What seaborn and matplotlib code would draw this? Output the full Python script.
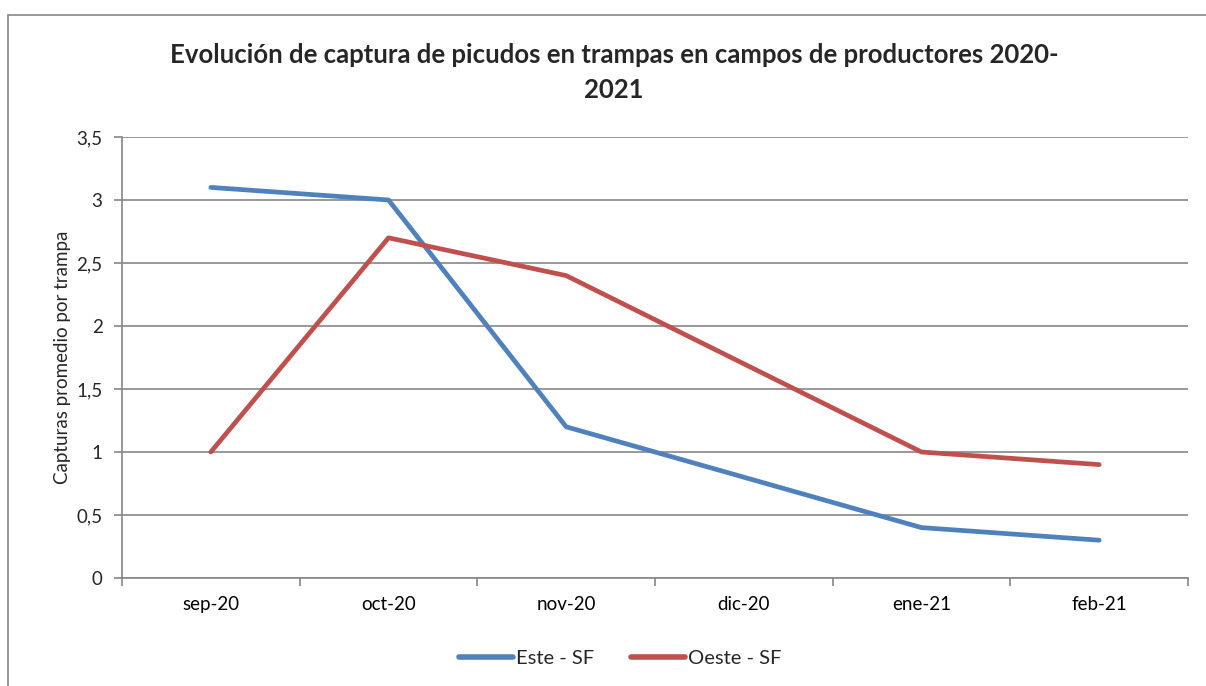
import matplotlib
matplotlib.use("Agg")
import matplotlib.pyplot as plt
import seaborn as sns
import pandas as pd
from matplotlib.ticker import FuncFormatter, FixedLocator
from matplotlib.patches import Rectangle

months = ["sep-20", "oct-20", "nov-20", "dic-20", "ene-21", "feb-21"]
este_sf = [3.1, 3.0, 1.2, 0.8, 0.4, 0.3]
oeste_sf = [1.0, 2.7, 2.4, 1.7, 1.0, 0.9]
series_names = ["Este - SF", "Oeste - SF"]
colors = ["#4F81BD", "#C0504D"]

sns.set_theme(style="white")
plt.rcParams['font.family'] = ['Lato', 'DejaVu Sans']

rows = []
for name, vals in zip(series_names, [este_sf, oeste_sf]):
    for i, v in enumerate(vals):
        rows.append({"idx": i, "valor": v, "serie": name})
df = pd.DataFrame(rows)

fig = plt.figure(figsize=(12.06, 6.86), dpi=100)
ax = fig.add_axes([122/1206, 1-578/686, (1188-122)/1206, (578-137)/686])

sns.lineplot(data=df, x="idx", y="valor", hue="serie", palette=colors,
             linewidth=3.4, ax=ax, legend=True, solid_capstyle="round")

ax.set_xlim(-0.5, 5.5)
ax.set_ylim(0, 3.5)
ax.set_yticks([0, 0.5, 1, 1.5, 2, 2.5, 3, 3.5])
ax.yaxis.set_major_formatter(FuncFormatter(lambda v, p: ("%g" % v).replace(".", ",")))
ax.set_xticks(range(len(months)))
ax.set_xticklabels(months)
ax.xaxis.set_minor_locator(FixedLocator([i - 0.5 for i in range(len(months) + 1)]))
ax.tick_params(axis="x", which="major", length=0, pad=13, labelsize=13.5, colors="black")
ax.tick_params(axis="x", which="minor", length=6, width=1.2, color="#868686", direction="out", bottom=True)
ax.tick_params(axis="y", which="major", length=6, width=1.2, color="#868686", direction="out", left=True, labelsize=13.5, pad=8)
ax.grid(axis="y", color="#868686", linewidth=1.2)
ax.set_axisbelow(True)
for s in ["top", "right"]:
    ax.spines[s].set_visible(False)
for s in ["left", "bottom"]:
    ax.spines[s].set_color("#868686")
    ax.spines[s].set_linewidth(1.2)
ax.set_xlabel("")
ax.set_ylabel("Capturas promedio por trampa", fontsize=13.5, labelpad=4)

handles, labels = ax.get_legend_handles_labels()
for h in handles:
    h.set_linewidth(4.0)
ax.legend_.remove()
fig.legend(handles, labels, loc="center", bbox_to_anchor=(620/1206, 1-658/686), ncol=2,
           frameon=False, fontsize=14.5, handlelength=2.7, handletextpad=0.15, columnspacing=1.8)

fig.text(614/1206, 1-55/686, "Evolución de captura de picudos en trampas en campos de productores 2020-",
         ha="center", va="center", fontsize=18.5, fontweight="bold")
fig.text(614/1206, 1-90/686, "2021", ha="center", va="center", fontsize=18.5, fontweight="bold")

fig.patches.append(Rectangle((8/1206, -0.1), 1.2, 1.1 - 15/686, transform=fig.transFigure,
                             fill=False, edgecolor="#868686", linewidth=1.2))

fig.savefig("out.png", dpi=100)
